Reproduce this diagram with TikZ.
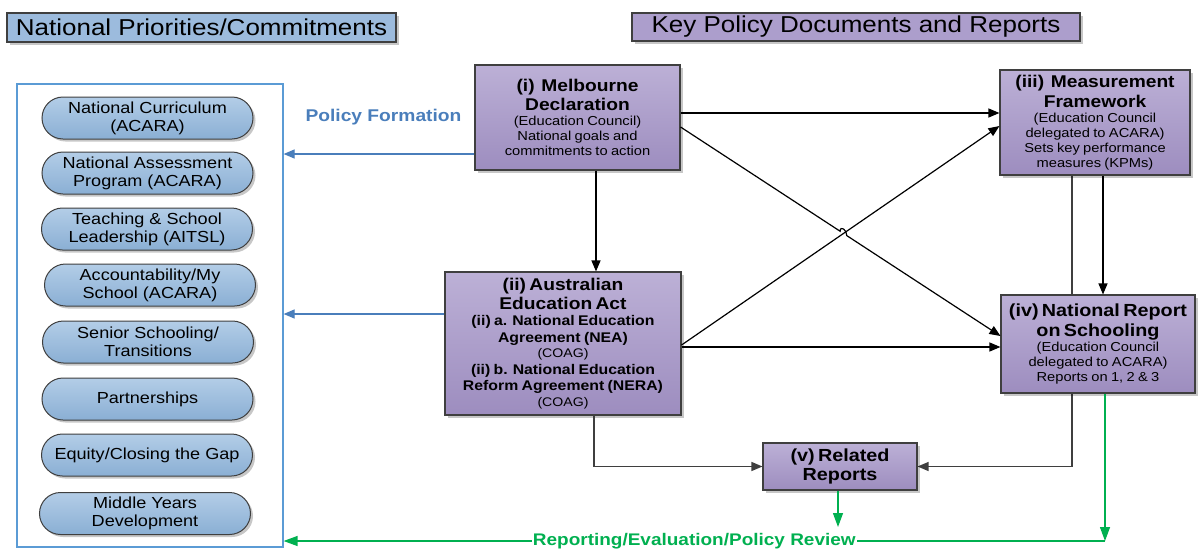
\documentclass[tikz,border=0pt]{standalone}
\usepackage{fontspec}
\setmainfont{Liberation Sans}[FakeStretch=1.13]
\usetikzlibrary{arrows.meta,calc,shadows}
\definecolor{edgegray}{HTML}{3F3F3F}
\definecolor{purpTop}{HTML}{BCB0D6}
\definecolor{purpBot}{HTML}{9D8DBF}
\definecolor{pillTop}{HTML}{B3CDE7}
\definecolor{pillBot}{HTML}{8AAFD4}
\definecolor{headBlue}{HTML}{9CBBDD}
\definecolor{headPurp}{HTML}{AC9ECC}
\definecolor{panelBlue}{HTML}{5B9BD5}
\definecolor{arrBlue}{HTML}{4A7EBB}
\definecolor{revGreen}{HTML}{00B050}
\pgfdeclarelayer{back}
\pgfsetlayers{back,main}

\begin{document}
\begin{tikzpicture}[x=1pt,y=-1pt,
  shade/.style={drop shadow={shadow xshift=2.5pt,shadow yshift=-2.5pt,fill=black,opacity=0.22}},
  headbox/.style={draw=edgegray,line width=1.1pt,inner sep=0pt,shade,
    font=\fontsize{23}{25}\selectfont},
  pill/.style={draw=edgegray,line width=1pt,rounded corners=21pt,
    minimum width=211pt,minimum height=42pt,inner sep=0pt,align=center,
    top color=pillTop,bottom color=pillBot,shade,
    font=\fontsize{16}{18}\selectfont},
  docbox/.style={draw=edgegray,line width=1.1pt,inner sep=2pt,align=center,
    top color=purpTop,bottom color=purpBot,shade},
  tip/.style={-{Triangle[length=11pt,width=9pt]}},
  blk/.style={draw=black,line width=1.2pt,tip},
  gry/.style={draw=edgegray,line width=1.2pt,tip},
  blu/.style={draw=arrBlue,line width=1.2pt,tip},
  grn/.style={draw=revGreen,line width=1.3pt,-{Triangle[length=14pt,width=10pt]}},
]
\useasboundingbox (0,0) rectangle (1202,549);

% headings
\node[headbox,fill=headBlue,minimum width=389pt,minimum height=29pt] (tA) at (201.5,27.5) {National Priorities/Commitments};
\node[headbox,fill=headPurp,minimum width=448pt,minimum height=28pt] (tB) at (856,27) {Key Policy Documents and Reports};

% priorities panel
\node[draw=panelBlue,line width=1.2pt,minimum width=266pt,minimum height=463pt,inner sep=0pt] (panel) at (150,315.5) {};
\node[pill] (p1) at (147.5,118) {National Curriculum\\(ACARA)};
\node[pill] (p2) at (147.5,173) {National Assessment\\Program (ACARA)};
\node[pill] (p3) at (147,229) {Teaching \& School\\Leadership (AITSL)};
\node[pill] (p4) at (150,285) {Accountability/My\\School (ACARA)};
\node[pill] (p5) at (148,342) {Senior Schooling/\\Transitions};
\node[pill] (p6) at (147.5,399) {Partnerships};
\node[pill] (p7) at (147,455) {Equity/Closing the Gap};
\node[pill] (p8) at (145,513.5) {Middle Years\\Development};

\node[text=arrBlue,font=\bfseries\fontsize{17}{19}\selectfont] (pf) at (383.5,117) {Policy Formation};

% policy documents
\node[docbox,minimum width=205pt,minimum height=105pt,text width=199pt] (i) at (577.5,117.5)
  {{\bfseries\fontsize{17}{19.5}\selectfont (i)\ \ Melbourne\\Declaration\par}
   {\fontsize{13}{15}\selectfont (Education Council)\\National goals and\\commitments to action\par}};
\node[docbox,minimum width=236pt,minimum height=143pt,text width=230pt] (ii) at (563,343.5)
  {{\bfseries\fontsize{17}{18.5}\selectfont (ii) Australian\\Education Act\par}
   {\bfseries\fontsize{14}{16.5}\selectfont (ii) a. National Education\\Agreement (NEA)\par}
   {\fontsize{12.5}{15.5}\selectfont (COAG)\par}
   {\bfseries\fontsize{14}{16.5}\selectfont (ii) b. National Education\\Reform Agreement (NERA)\par}
   {\fontsize{12.5}{15.5}\selectfont (COAG)\par}};
\node[docbox,minimum width=190pt,minimum height=105pt,text width=184pt] (iii) at (1095,122.5)
  {{\bfseries\fontsize{17}{19.5}\selectfont (iii)\ \ Measurement\\Framework\par}
   {\fontsize{13}{15}\selectfont (Education Council\\delegated to ACARA)\\Sets key performance\\measures (KPMs)\par}};
\node[docbox,minimum width=194pt,minimum height=98pt,text width=188pt] (iv) at (1098,344)
  {{\bfseries\fontsize{17.5}{19.5}\selectfont (iv) National Report\\on Schooling\par}
   {\fontsize{13}{15}\selectfont (Education Council\\delegated to ACARA)\\Reports on 1, 2 \& 3\par}};
\node[docbox,minimum width=154pt,minimum height=47pt,text width=148pt] (v) at (840,466.5)
  {{\bfseries\fontsize{17.5}{19.5}\selectfont (v) Related\\Reports\par}};

% policy formation links
\draw[blu] ([yshift=-36.5pt]i.west) coordinate (bi) -- (bi -| panel.east);
\draw[blu] ([yshift=29.5pt]ii.west) coordinate (bii) -- (bii -| panel.east);

% document links
\draw[blk] ([xshift=18.5pt]i.south) coordinate (ia) -- (ia |- ii.north);
\draw[blk] ([yshift=4.5pt]i.east) coordinate (ib) -- (ib -| iii.west);
\draw[blk] ([yshift=-3.5pt]ii.east) coordinate (iia) -- (iia -| iv.west);
\draw[blk] ([xshift=8pt]iii.south) coordinate (iiia) -- (iiia |- iv.north);

\coordinate (iS) at ([yshift=-9.5pt]i.east);
\coordinate (ivE) at ([yshift=8pt]iv.west);
\coordinate (iiS) at ([yshift=-1.5pt]ii.east);
\coordinate (iiiE) at ([yshift=-3.5pt]iii.west);
\coordinate (X) at (intersection of iS--ivE and iiS--iiiE);
\draw[blk] (iiS) -- (iiiE);
\draw[blk] (iS) -- ($(X)!4pt!(iS)$) .. controls +(0,-6) and +(0,-6) .. ($(X)!4pt!(ivE)$) -- (ivE);

% links into related reports
\begin{pgfonlayer}{back}
\draw[gry] ([xshift=-23pt]iii.south) |- (v.east);
\end{pgfonlayer}
\draw[gry] ([xshift=31pt]ii.south) |- (v.west);

% reporting / evaluation feedback
\coordinate (gEnd) at (1105,541);
\coordinate (vEnd) at (838,527);
\draw[grn] (v.south -| vEnd) -- (vEnd);
\draw[grn] (iv.south -| gEnd) -- (gEnd);
\draw[grn] (gEnd) -- (gEnd -| panel.east)
  node[midway,fill=white,inner sep=1pt,text=revGreen,font=\bfseries\fontsize{16.8}{18}\selectfont] (rev) {Reporting/Evaluation/Policy Review};
\end{tikzpicture}
\end{document}
